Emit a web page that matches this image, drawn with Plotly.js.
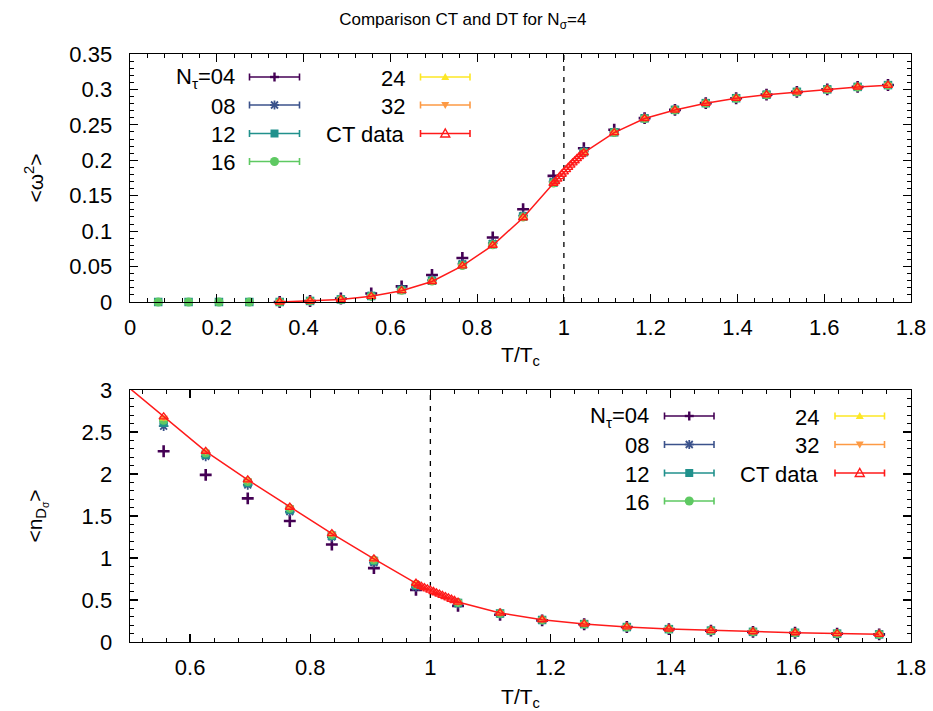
<!DOCTYPE html>
<html>
<head>
<meta charset="utf-8">
<script src="https://cdn.plot.ly/plotly-3.0.1.min.js"></script>
<style>
  html, body { margin: 0; padding: 0; background: #fff; }
  #chart { width: 933px; height: 711px; }
</style>
</head>
<body>
<div id="chart"></div>
<script>
// Temperatures (T/Tc) of the discrete-time runs
const tGrid = [0.065, 0.135, 0.205, 0.275, 0.345, 0.415, 0.486, 0.556, 0.626, 0.696,
               0.766, 0.836, 0.906, 0.976, 1.046, 1.116, 1.186, 1.256, 1.327, 1.397,
               1.467, 1.537, 1.607, 1.677, 1.747];

const tauLabels = ['04', '08', '12', '16', '24', '32'];

// <omega^2> for each N_tau (aligned with tGrid, null = no run)
const omega04 = [null, null, null, null, 0.000, 0.0015, 0.005, 0.012, 0.022, 0.038, 0.062, 0.091, 0.131, 0.178, 0.217, 0.243, 0.2595, 0.2712, 0.2806, 0.2876, 0.2926, 0.2966, 0.3001, 0.3036, 0.3062];
const omega08 = [null, null, null, null, 0.000, 0.0015, 0.004, 0.009, 0.018, 0.031, 0.054, 0.083, 0.122, 0.170, 0.213, 0.240, 0.2595, 0.2715, 0.281, 0.2878, 0.2928, 0.2968, 0.3003, 0.3037, 0.3062];
const omega12 = [0, 0, 0, 0, 0.000, 0.0015, 0.0037, 0.0085, 0.017, 0.030, 0.0525, 0.0815, 0.1205, 0.1685, 0.2115, 0.2395, 0.2592, 0.2712, 0.2806, 0.2876, 0.2926, 0.2966, 0.3001, 0.3036, 0.3061];
const omega16 = [0, 0, 0, 0, 0.000, 0.0015, 0.0036, 0.0082, 0.0165, 0.0295, 0.0515, 0.0808, 0.1198, 0.1678, 0.211, 0.2392, 0.259, 0.271, 0.2805, 0.2875, 0.2925, 0.2965, 0.300, 0.3035, 0.306];
const omega24 = [null, null, null, null, 0.000, 0.0015, 0.0035, 0.008, 0.016, 0.029, 0.051, 0.0803, 0.1193, 0.1676, 0.2108, 0.239, 0.259, 0.271, 0.2805, 0.2875, 0.2925, 0.2965, 0.300, 0.3035, 0.306];
const omega32 = [null, null, null, null, 0.000, 0.0015, 0.0035, 0.008, 0.016, 0.029, 0.051, 0.080, 0.119, 0.1675, 0.2107, 0.239, 0.259, 0.271, 0.2805, 0.2875, 0.2925, 0.2965, 0.300, 0.3035, 0.306];

// <n_D_sigma> for each N_tau (aligned with tGrid)
const nD04 = [null, null, null, null, null, null, null, 2.27, 1.99, 1.71, 1.44, 1.16, 0.88, 0.62, 0.43, 0.325, 0.258, 0.212, 0.178, 0.153, 0.136, 0.121, 0.11, 0.1, 0.091];
const nD08 = [null, null, null, null, null, null, null, 2.57, 2.21, 1.87, 1.55, 1.25, 0.945, 0.655, 0.455, 0.335, 0.26, 0.212, 0.177, 0.152, 0.135, 0.121, 0.109, 0.099, 0.091];
const nD12 = [null, null, null, null, null, null, null, 2.61, 2.23, 1.895, 1.575, 1.265, 0.965, 0.675, 0.465, 0.34, 0.262, 0.213, 0.178, 0.153, 0.136, 0.121, 0.11, 0.1, 0.091];
const nD16 = [null, null, null, null, null, null, null, 2.64, 2.25, 1.91, 1.59, 1.275, 0.975, 0.685, 0.47, 0.342, 0.263, 0.214, 0.179, 0.154, 0.136, 0.122, 0.11, 0.1, 0.092];
const nD24 = [null, null, null, null, null, null, null, 2.66, 2.26, 1.92, 1.598, 1.282, 0.98, 0.692, 0.472, 0.344, 0.264, 0.215, 0.18, 0.155, 0.137, 0.122, 0.11, 0.1, 0.092];
const nD32 = [null, null, null, null, null, null, null, 2.67, 2.265, 1.925, 1.60, 1.285, 0.985, 0.695, 0.473, 0.345, 0.265, 0.215, 0.18, 0.155, 0.137, 0.122, 0.11, 0.1, 0.092];

// Continuous-time reference data (denser around T = Tc)
const ctT = [0.345, 0.415, 0.486, 0.556, 0.626, 0.696, 0.766, 0.836, 0.906, 0.976,
             0.980, 0.985, 0.990, 0.995, 1.000, 1.005, 1.010, 1.015, 1.020, 1.025, 1.030, 1.035, 1.040,
             1.046, 1.116, 1.186, 1.256, 1.327, 1.397, 1.467, 1.537, 1.607, 1.677, 1.747];
const ctOmega = [0.000, 0.0015, 0.0035, 0.008, 0.016, 0.029, 0.051, 0.080, 0.119, 0.1675,
                 0.170, 0.1735, 0.177, 0.1803, 0.1836, 0.1868, 0.190, 0.1932, 0.1963, 0.1993, 0.2023, 0.2052, 0.208,
                 0.2107, 0.239, 0.259, 0.271, 0.2805, 0.2875, 0.2925, 0.2965, 0.300, 0.3035, 0.306];
const ctND = [null, null, 3.10, 2.68, 2.27, 1.93, 1.605, 1.29, 0.99, 0.70,
              0.678, 0.663, 0.647, 0.632, 0.617, 0.601, 0.586, 0.571, 0.555, 0.540, 0.525, 0.509, 0.494,
              0.475, 0.345, 0.265, 0.215, 0.18, 0.155, 0.137, 0.122, 0.110, 0.100, 0.092];

const tcLine = 1.0;

// Styling per N_tau series
const seriesColors = ['#440154', '#3b528b', '#21918c', '#5ec962', '#fde725', '#fd9a44'];
const ctColor = '#ff1a1a';
const seriesMarkers = [
  {symbol: 'cross-thin-open', size: 8.5, line: {width: 2.6}},
  {symbol: 'asterisk-open', size: 8, line: {width: 1.8}},
  {symbol: 'square', size: 8.5, line: {width: 0}},
  {symbol: 'circle', size: 9, line: {width: 0}},
  {symbol: 'triangle-up', size: 7.5, line: {width: 0}},
  {symbol: 'triangle-down', size: 7.5, line: {width: 0}}
];

const omegaSets = [omega04, omega08, omega12, omega16, omega24, omega32];
const nDSets = [nD04, nD08, nD12, nD16, nD24, nD32];

const traces = [];
function addSeries(ySets, ctY, xa, ya, clipCT) {
  ySets.forEach((ys, i) => {
    const m = seriesMarkers[i];
    traces.push({
      type: 'scatter', mode: 'markers', x: tGrid, y: ys, xaxis: xa, yaxis: ya,
      name: tauLabels[i], showlegend: false, cliponaxis: false,
      marker: {symbol: m.symbol, size: m.size, color: seriesColors[i],
               line: {width: m.line.width, color: seriesColors[i]}}
    });
  });
  traces.push({
    type: 'scatter', mode: 'lines+markers', x: ctT, y: ctY, xaxis: xa, yaxis: ya,
    name: 'CT data', showlegend: false, connectgaps: false, cliponaxis: clipCT,
    line: {color: ctColor, width: 1.5},
    marker: {symbol: 'triangle-up-open', size: 8, color: ctColor, line: {width: 1.4, color: ctColor}}
  });
}
addSeries(omegaSets, ctOmega, 'x', 'y', false);
addSeries(nDSets, ctND, 'x2', 'y2', true);

// Frame geometry (pixels) used to place the hand-drawn keys
const W = 933, H = 711;
const M = {l: 130, r: 22, t: 54, b: 69};
const PW = W - M.l - M.r, PH = H - M.t - M.b;
const px = v => (v - M.l) / PW;
const py = v => (H - M.b - v) / PH;

const fontFam = '"Liberation Sans", Arial, sans-serif';
const FS = 22;
const tickFont = {family: fontFam, size: FS, color: '#000'};

const shapes = [];
const annotations = [];

// vertical dashed line at T = Tc in both panels
[['x', 'y domain'], ['x2', 'y2 domain']].forEach(([xr, yr]) => {
  shapes.push({type: 'line', xref: xr, yref: yr, x0: tcLine, x1: tcLine, y0: 0, y1: 1,
               line: {color: '#000', width: 1.3, dash: '5px,6px'}, layer: 'below'});
});

// key symbol drawing helpers (pixel coordinates converted to paper units)
function seg(x0, y0, x1, y1, color, w) {
  shapes.push({type: 'line', xref: 'paper', yref: 'paper',
               x0: px(x0), y0: py(y0), x1: px(x1), y1: py(y1),
               line: {color: color, width: w}});
}
function poly(pts, color, filled, w) {
  const d = pts.map((p, i) => (i ? 'L' : 'M') + px(p[0]).toFixed(5) + ',' + py(p[1]).toFixed(5)).join(' ') + ' Z';
  shapes.push({type: 'path', xref: 'paper', yref: 'paper', path: d,
               fillcolor: filled ? color : 'rgba(0,0,0,0)',
               line: {color: color, width: filled ? 0 : w}});
}
function keySymbol(kind, cx, cy, color) {
  if (kind === 'plus') {
    seg(cx - 4.5, cy, cx + 4.5, cy, color, 2.4); seg(cx, cy - 4.5, cx, cy + 4.5, color, 2.4);
  } else if (kind === 'star') {
    seg(cx - 4.5, cy, cx + 4.5, cy, color, 1.8); seg(cx, cy - 4.5, cx, cy + 4.5, color, 1.8);
    seg(cx - 3.5, cy - 3.5, cx + 3.5, cy + 3.5, color, 1.8); seg(cx - 3.5, cy + 3.5, cx + 3.5, cy - 3.5, color, 1.8);
  } else if (kind === 'square') {
    poly([[cx - 4, cy - 4], [cx + 4, cy - 4], [cx + 4, cy + 4], [cx - 4, cy + 4]], color, true);
  } else if (kind === 'circle') {
    shapes.push({type: 'circle', xref: 'paper', yref: 'paper',
                 x0: px(cx - 4.5), x1: px(cx + 4.5), y0: py(cy + 4.5), y1: py(cy - 4.5),
                 fillcolor: color, line: {width: 0}});
  } else if (kind === 'tri') {
    poly([[cx - 4, cy + 3], [cx + 4, cy + 3], [cx, cy - 4]], color, true);
  } else if (kind === 'itri') {
    poly([[cx - 4, cy - 3], [cx + 4, cy - 3], [cx, cy + 4]], color, true);
  } else if (kind === 'otri') {
    poly([[cx - 4.5, cy + 3.5], [cx + 4.5, cy + 3.5], [cx, cy - 4.5]], color, false, 1.4);
  }
}
const keyKinds = ['plus', 'star', 'square', 'circle', 'tri', 'itri'];
const keyTexts = ['N<sub>τ</sub>=04', '08', '12', '16', '24', '32', 'CT data'];

function drawKey(col1Text, col1Line, col2Text, col2Line, rows) {
  const entries = keyTexts.map((t, i) => ({
    text: t,
    color: i < 6 ? seriesColors[i] : ctColor,
    kind: i < 6 ? keyKinds[i] : 'otri',
    col: i < 4 ? 0 : 1,
    row: i < 4 ? i : i - 4
  }));
  entries.forEach(e => {
    const tx = e.col ? col2Text : col1Text;
    const [l0, l1] = e.col ? col2Line : col1Line;
    const y = rows[e.row];
    annotations.push({xref: 'paper', yref: 'paper', x: px(tx), y: py(y + 1),
                      xanchor: 'right', yanchor: 'middle', showarrow: false,
                      text: e.text, font: {family: fontFam, size: FS, color: '#000'}});
    seg(l0, y, l1, y, e.color, 1.6);
    seg(l0, y - 3.5, l0, y + 3.5, e.color, 1.6);
    seg(l1, y - 3.5, l1, y + 3.5, e.color, 1.6);
    keySymbol(e.kind, (l0 + l1) / 2, y, e.color);
  });
}
drawKey(237, [249.5, 299.5], 407, [420.5, 470], [77, 105, 133.5, 161.5]);
drawKey(651, [664.5, 714], 821, [835, 884.5], [416, 444.5, 473, 501]);

const axisCommon = {
  showline: true, linecolor: '#000', linewidth: 1.4, mirror: 'allticks',
  ticks: 'inside', ticklen: 8, tickwidth: 1.2, tickcolor: '#000',
  showgrid: false, zeroline: false, tickfont: tickFont,
  ticklabelstandoff: 5
};

const layout = {
  width: W, height: H,
  margin: M,
  paper_bgcolor: '#fff', plot_bgcolor: '#fff',
  showlegend: false,
  font: {family: fontFam, color: '#000'},
  title: {text: 'Comparison CT and DT for N<sub>σ</sub>=4', xref: 'container', yref: 'container',
          x: 0.496, y: 1 - 19 / H, xanchor: 'center', yanchor: 'middle',
          font: {family: fontFam, size: 17, color: '#000'}},
  xaxis: Object.assign({}, axisCommon, {
    domain: [0, 1], range: [0, 1.8], tick0: 0, dtick: 0.2, anchor: 'y',
    minor: {dtick: 0.04, ticklen: 4, tickwidth: 1, tickcolor: '#000', ticks: 'inside'},
    title: {text: 'T/T<sub>c</sub>', font: {family: fontFam, size: 21}, standoff: 8}
  }),
  yaxis: Object.assign({}, axisCommon, {
    domain: [py(302), 1], range: [0, 0.35], tick0: 0, dtick: 0.05, anchor: 'x',
    minor: {dtick: 0.01, ticklen: 4, tickwidth: 1, tickcolor: '#000', ticks: 'inside'},
    ticklabelstandoff: 12,
    title: {text: '&lt;ω<sup>2</sup>&gt;', font: {family: fontFam, size: 21}, standoff: 20}
  }),
  xaxis2: Object.assign({}, axisCommon, {
    domain: [0, 1], range: [0.5, 1.8], tick0: 0, dtick: 0.2, anchor: 'y2',
    minor: {dtick: 0.04, tick0: 0, ticklen: 4, tickwidth: 1, tickcolor: '#000', ticks: 'inside'},
    title: {text: 'T/T<sub>c</sub>', font: {family: fontFam, size: 21}, standoff: 13}
  }),
  yaxis2: Object.assign({}, axisCommon, {
    domain: [0, py(390)], range: [0, 3], tick0: 0, dtick: 0.5, anchor: 'x2',
    minor: {dtick: 0.1, ticklen: 4, tickwidth: 1, tickcolor: '#000', ticks: 'inside'},
    ticklabelstandoff: 12,
    title: {text: '&lt;n<sub>D<sub>σ</sub></sub>&gt;', font: {family: fontFam, size: 21}, standoff: 33}
  }),
  shapes: shapes,
  annotations: annotations
};

Plotly.newPlot('chart', traces, layout, {displayModeBar: false, staticPlot: true});
</script>
</body>
</html>
